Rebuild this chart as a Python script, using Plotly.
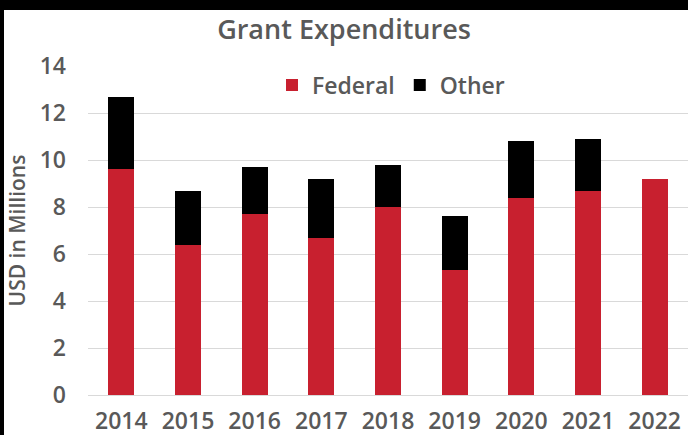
import plotly.graph_objects as go

# Grant expenditures by fiscal year, in millions of USD
years = ["2014", "2015", "2016", "2017", "2018", "2019", "2020", "2021", "2022"]
federal = [9.6, 6.4, 7.7, 6.7, 8.0, 5.3, 8.4, 8.7, 9.2]
other = [3.1, 2.3, 2.0, 2.5, 1.8, 2.3, 2.4, 2.2, None]
y_ticks = [0, 2, 4, 6, 8, 10, 12, 14]

RED = "#C8202F"
TEXT = "#595959"
FONT = "Open Sans"
W = 600

fig = go.Figure()
fig.add_trace(go.Bar(name="Federal", x=years, y=federal, marker_color=RED,
                     marker_line_width=0))
fig.add_trace(go.Bar(name="Other", x=years, y=other, marker_color="#000000",
                     marker_line_width=0))

fig.update_layout(
    width=688, height=435,
    margin=dict(l=88, r=0, t=66, b=40),
    barmode="stack",
    bargap=0.61,
    plot_bgcolor="white",
    paper_bgcolor="white",
    font=dict(family=FONT, color=TEXT, size=23, weight=W),
    title=dict(text="Grant Expenditures", x=0.5, xanchor="center",
               y=1 - 30 / 435, yanchor="middle",
               font=dict(family=FONT, size=27, color=TEXT, weight=W)),
    legend=dict(orientation="h", x=0.505, xanchor="center", y=0.942,
                yanchor="middle",
                font=dict(size=23, color=TEXT, weight=W),
                itemwidth=30, traceorder="normal", bgcolor="rgba(0,0,0,0)"),
    showlegend=True,
)

fig.update_xaxes(showgrid=False, showline=False, ticks="", automargin=False,
                 tickfont=dict(size=23, color=TEXT, weight=W),
                 ticklabelstandoff=10)
fig.update_yaxes(range=[0, 14], tickvals=y_ticks, showgrid=True,
                 gridcolor="#D9D9D9", gridwidth=1, zeroline=True,
                 zerolinecolor="#D9D9D9", zerolinewidth=1,
                 showline=False, ticks="", automargin=False,
                 tickfont=dict(size=23, color=TEXT, weight=W),
                 ticklabelstandoff=21,
                 title=dict(text="USD in Millions", standoff=8,
                            font=dict(size=21, color=TEXT, weight=W)))

# dark frame along the top and left edges
fig.add_shape(type="rect", xref="paper", yref="paper",
              x0=-0.2, x1=1.2, y0=1 + (66 - 10) / 329, y1=1.3,
              fillcolor="black", line_width=0, layer="above")
fig.add_shape(type="rect", xref="paper", yref="paper",
              x0=-0.2, x1=-84 / 600, y0=-0.2, y1=1.3,
              fillcolor="black", line_width=0, layer="above")

fig.write_html("out.html")
